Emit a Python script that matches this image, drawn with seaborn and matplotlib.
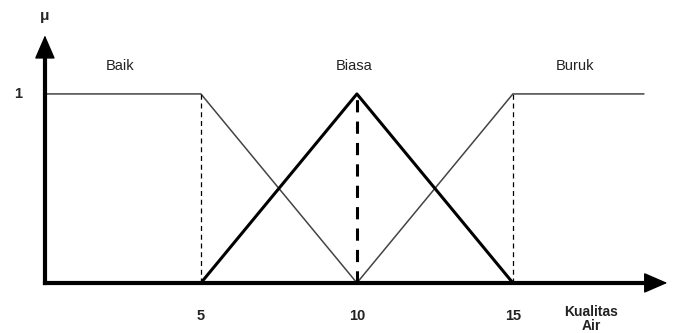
import pandas as pd
import matplotlib
matplotlib.use("Agg")
import matplotlib.pyplot as plt
import seaborn as sns

# fungsi keanggotaan kualitas air
baik_x = [0, 5, 10]
baik_y = [1, 1, 0]
biasa_x = [5, 10, 15]
biasa_y = [0, 1, 0]
buruk_x = [10, 15, 19.2]
buruk_y = [0, 1, 1]

label_himpunan = ["Baik", "Biasa", "Buruk"]
posisi_label = [2.4, 9.9, 17.0]
tick_x = [5, 10, 15]

sns.set_style("white")
plt.rcParams['font.family'] = ['Liberation Sans', 'DejaVu Sans']

fig = plt.figure(figsize=(6.77, 3.33), dpi=100)
ax = fig.add_axes([0, 0, 1, 1])

sns.lineplot(x=baik_x, y=baik_y, ax=ax, color="#444444", linewidth=1.1, sort=False)
sns.lineplot(x=buruk_x, y=buruk_y, ax=ax, color="#444444", linewidth=1.1, sort=False)
sns.lineplot(x=biasa_x, y=biasa_y, ax=ax, color="black", linewidth=2.2, sort=False)

# garis putus-putus
ax.plot([5, 5], [0, 1], color="black", linewidth=0.9, linestyle=(0, (4, 3)))
ax.plot([15, 15], [0, 1], color="black", linewidth=0.9, linestyle=(0, (4, 3)))
ax.plot([10, 10], [0, 1], color="black", linewidth=2.2, linestyle=(0, (4, 3)))

# sumbu dengan panah
ax.plot([0, 19.5], [0, 0], color="black", linewidth=3, solid_capstyle="projecting")
ax.plot([0, 0], [0, 1.25], color="black", linewidth=3, solid_capstyle="projecting")
ax.annotate("", xy=(19.95, 0), xytext=(19.0, 0),
            arrowprops=dict(arrowstyle="-|>,head_length=1.5,head_width=0.65",
                            color="black", lw=1, shrinkA=0, shrinkB=0))
ax.annotate("", xy=(0, 1.31), xytext=(0, 1.15),
            arrowprops=dict(arrowstyle="-|>,head_length=1.5,head_width=0.65",
                            color="black", lw=1, shrinkA=0, shrinkB=0))

for nama, px in zip(label_himpunan, posisi_label):
    ax.text(px, 1.15, nama, ha="center", va="center", fontsize=10.5, color="#222222")

for t in tick_x:
    ax.text(t, -0.175, str(t), ha="center", va="center", fontsize=10.5,
            fontweight="bold", color="#222222")

ax.text(-0.85, 1.0, "1", ha="center", va="center", fontsize=10.5, fontweight="bold")
ax.text(0.0, 1.41, "μ", ha="center", va="center", fontsize=11, fontweight="bold")
ax.text(17.5, -0.19, "Kualitas\nAir", ha="center", va="center", fontsize=10,
        fontweight="bold", linespacing=1.0, color="#222222")

ax.set_xlim(-1.44, 20.26)
ax.set_ylim(-0.265, 1.497)
ax.axis("off")

fig.savefig("out.png", dpi=100)
